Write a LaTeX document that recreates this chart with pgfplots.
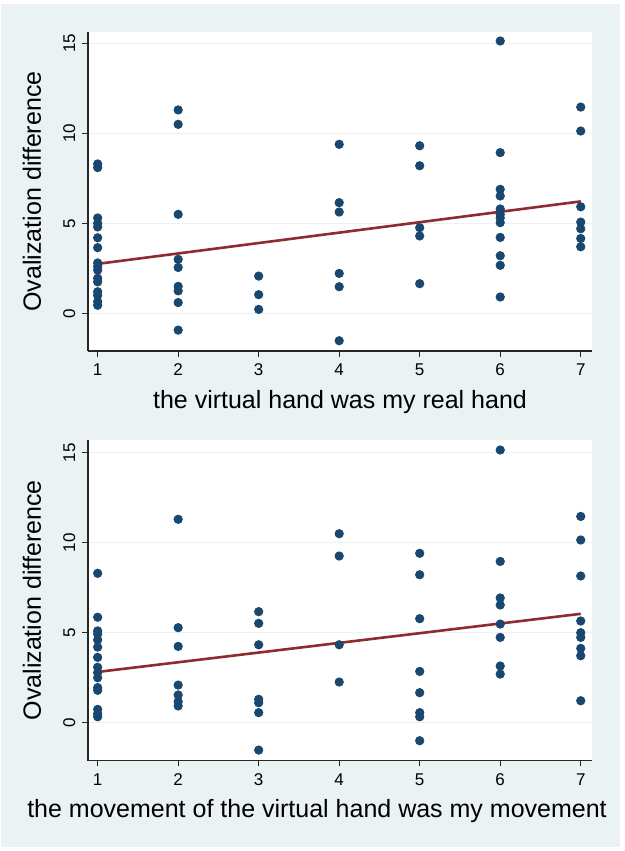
\documentclass[border=0pt]{standalone}
\usepackage{pgfplots}
\pgfplotsset{compat=1.18}
\usepackage{fontspec}
\setmainfont{Liberation Sans}

\definecolor{stbg}{HTML}{EAF2F3}
\definecolor{stnavy}{HTML}{1A476F}
\definecolor{stmaroon}{HTML}{8E2A30}

\pgfplotsset{
  statapanel/.style={
    scale only axis, width=252pt,
    xmin=0.88, xmax=7.14,
    xtick={1,2,3,4,5,6,7}, ytick={0,5,10,15},
    axis x line*=bottom, axis y line*=left,
    axis line style={black!85, line width=0.6pt},
    tick align=outside, major tick length=2.8pt,
    tick style={black!85, line width=0.6pt},
    ymajorgrids, grid style={stbg, line width=0.6pt},
    axis background/.style={fill=white},
    /pgf/number format/assume math mode=true,
    ticklabel style={font=\fontsize{8.5}{10}\selectfont},
    yticklabel style={rotate=90, anchor=south},
    label style={font=\fontsize{12.5}{15}\selectfont},
    ylabel={Ovalization difference},
    ylabel style={at={(axis description cs:-0.111,0.5)}, rotate=0, anchor=center},
    clip=false,
  },
  dots/.style={only marks, mark=*, mark size=2.1pt, color=stnavy},
  fit/.style={no marks, color=stmaroon, line width=1.3pt},
}

\begin{document}
\begin{tikzpicture}
\fill[stbg] (0.5pt,2pt) rectangle (310pt,423.5pt);
\useasboundingbox (0,0) rectangle (312.5pt,425.5pt);

\begin{axis}[statapanel, height=159.5pt, ymin=-2.09, ymax=15.63,
  at={(44pt,250pt)}, anchor=south west,
  xlabel={the virtual hand was my real hand},
  xlabel style={at={(axis description cs:0.5,-0.179)}, anchor=base}]
\addplot[dots] coordinates {
 (1,8.3) (1,8.1) (1,5.3) (1,5.0) (1,4.8) (1,4.2) (1,3.65) (1,2.8) (1,2.6) (1,2.4)
 (1,1.95) (1,1.75) (1,1.2) (1,1.0) (1,0.65) (1,0.45)
 (2,11.3) (2,10.5) (2,5.5) (2,3.0) (2,2.55) (2,1.5) (2,1.25) (2,0.6) (2,-0.93)
 (3,2.07) (3,1.04) (3,0.22)
 (4,9.39) (4,6.15) (4,5.63) (4,2.22) (4,1.48) (4,-1.52)
 (5,9.31) (5,8.2) (5,4.76) (5,4.3) (5,1.65)
 (6,15.13) (6,8.93) (6,6.89) (6,6.52) (6,5.8) (6,5.5) (6,5.3) (6,5.04) (6,4.22)
 (6,3.2) (6,2.67) (6,0.91)
 (7,11.46) (7,10.13) (7,5.92) (7,5.07) (7,4.7) (7,4.16) (7,3.7)
};
\addplot[fit] coordinates {(1,2.75) (7,6.22)};
\end{axis}

\begin{axis}[statapanel, height=160.3pt, ymin=-2.11, ymax=15.7,
  at={(44pt,45.15pt)}, anchor=south west,
  xlabel={the movement of the virtual hand was my movement},
  xlabel style={at={(axis description cs:0.5,-0.178)}, anchor=base, xshift=-11.5pt}]
\addplot[dots] coordinates {
 (1,8.3) (1,5.86) (1,5.1) (1,4.93) (1,4.6) (1,4.2) (1,3.63) (1,3.08) (1,2.78) (1,2.5)
 (1,1.95) (1,1.8) (1,0.74) (1,0.5) (1,0.33)
 (2,11.3) (2,5.28) (2,4.24) (2,2.09) (2,1.54) (2,1.17) (2,0.93)
 (3,6.17) (3,5.52) (3,4.33) (3,1.3) (3,1.11) (3,0.56) (3,-1.52)
 (4,10.5) (4,9.26) (4,4.33) (4,2.26)
 (5,9.41) (5,8.22) (5,5.78) (5,2.85) (5,1.67) (5,0.56) (5,0.33) (5,-1.0)
 (6,15.15) (6,8.96) (6,6.93) (6,6.54) (6,5.48) (6,4.74) (6,3.15) (6,2.7)
 (7,11.46) (7,10.15) (7,8.15) (7,5.65) (7,5.0) (7,4.74) (7,4.13) (7,3.72) (7,1.22)
};
\addplot[fit] coordinates {(1,2.82) (7,6.05)};
\end{axis}
\end{tikzpicture}
\end{document}
